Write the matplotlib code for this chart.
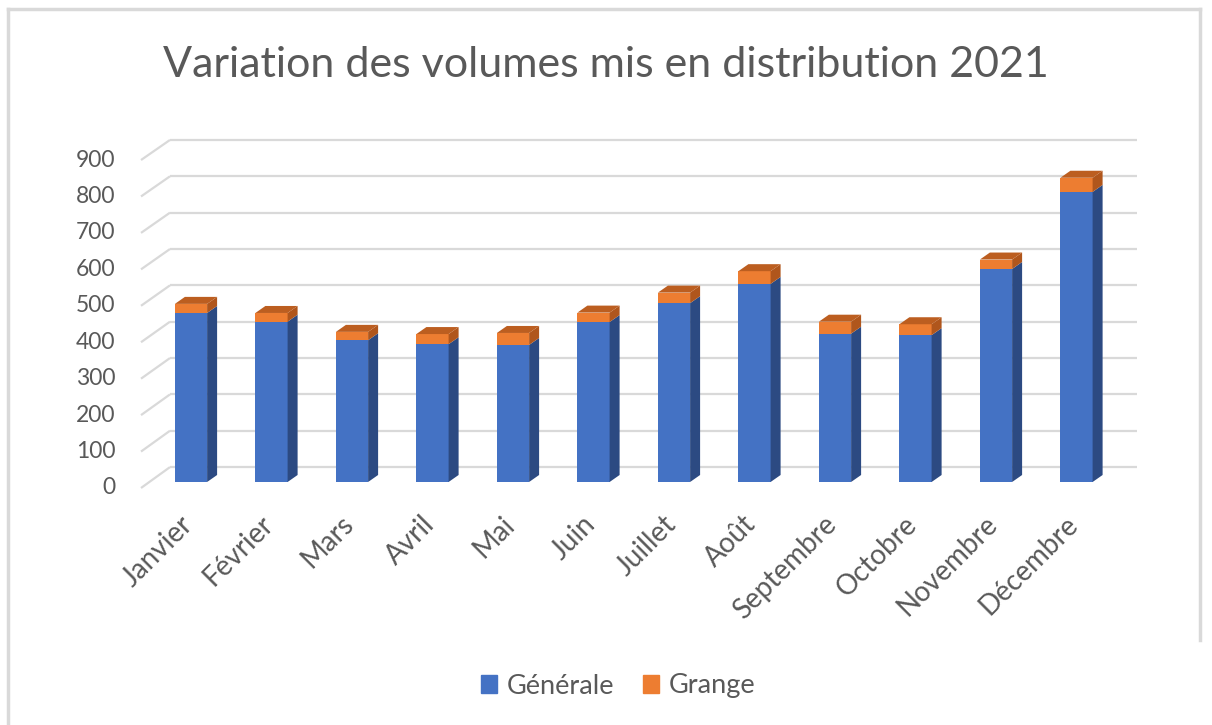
import matplotlib
matplotlib.use('Agg')
import matplotlib.pyplot as plt
from matplotlib.patches import Polygon, Patch
from matplotlib.lines import Line2D

plt.rcParams['font.family'] = ['Lato', 'DejaVu Sans']

months = ['Janvier', 'Février', 'Mars', 'Avril', 'Mai', 'Juin', 'Juillet',
          'Août', 'Septembre', 'Octobre', 'Novembre', 'Décembre']
generale = [465, 441, 390, 379, 377, 440, 492, 545, 408, 404, 586, 798]
grange = [25, 24, 23, 28, 33, 26, 29, 35, 33, 30, 26, 39]
yticks = [0, 100, 200, 300, 400, 500, 600, 700, 800, 900]
title = 'Variation des volumes mis en distribution 2021'

BLUE, BLUE_SIDE = '#4472C4', '#2C4A82'
ORANGE, ORANGE_SIDE, ORANGE_TOP = '#ED7D31', '#B0561C', '#BC5E20'
TEXT = '#595959'
GRID = '#d9d9d9'

W, H = 1212, 725
# pixel layout of the bar front plane
X0, STEP = 191.0, 80.5
Y0, PPU = 482.0, 0.3635
xlim = (-1.2, 12.0)
ylim = (-40, 960)

fig = plt.figure(figsize=(W / 100, H / 100), dpi=100)
left = X0 + xlim[0] * STEP
right = X0 + xlim[1] * STEP
top = Y0 - ylim[1] * PPU
bottom = Y0 - ylim[0] * PPU
ax = fig.add_axes([left / W, 1 - bottom / H, (right - left) / W, (bottom - top) / H])
ax.set_xlim(*xlim)
ax.set_ylim(*ylim)
ax.axis('off')

# depth offsets (data units)
dx, dy = 10 / STEP, 7 / PPU          # bar depth
wx, wy = 20.7 / STEP, 41.0           # bar front -> back wall
fx, fy = -8.3 / STEP, -16.5          # bar front -> front edge of floor
wall_left = -0.261
wall_right = 11.75

for v in yticks:
    yb = v + wy
    ax.plot([wall_left, wall_right], [yb, yb], color=GRID, lw=1.6, zorder=1,
            solid_capstyle='butt')
    ax.plot([wall_left - 0.36, wall_left], [v * 1.0025 + fy, yb], color=GRID,
            lw=1.6, zorder=1, solid_capstyle='butt')
    ax.text(-0.935, v * 1.0025 + fy, str(v), ha='right', va='center',
            fontsize=16.5, color=TEXT)

x = list(range(len(months)))
width = 0.4
ax.bar(x, generale, width=width, color=BLUE, zorder=3)
ax.bar(x, grange, width=width, bottom=generale, color=ORANGE, zorder=3)

for i, (g, o) in enumerate(zip(generale, grange)):
    xl, xr = i - width / 2, i + width / 2
    t = g + o
    ax.add_patch(Polygon([(xr, 0), (xr + dx, dy), (xr + dx, g + dy), (xr, g)],
                         closed=True, color=BLUE_SIDE, lw=0, zorder=3))
    ax.add_patch(Polygon([(xr, g), (xr + dx, g + dy), (xr + dx, t + dy), (xr, t)],
                         closed=True, color=ORANGE_SIDE, lw=0, zorder=3))
    ax.add_patch(Polygon([(xl, t), (xl + dx, t + dy), (xr + dx, t + dy), (xr, t)],
                         closed=True, color=ORANGE_TOP, lw=0, zorder=3))
    ax.text(i - 0.03, -105, months[i], rotation=45, rotation_mode='anchor',
            ha='right', va='center', fontsize=20, color=TEXT, clip_on=False)

fig.text(0.5, 1 - 65 / H, title, ha='center', va='center', fontsize=31, color=TEXT)

handles = [Patch(color=BLUE, label='Générale'), Patch(color=ORANGE, label='Grange')]
fig.legend(handles=handles, loc='center', bbox_to_anchor=(0.51, 1 - 686 / H), ncol=2,
           frameon=False, fontsize=19.5, handlelength=0.6, handleheight=0.6,
           handletextpad=0.35, columnspacing=1.05, labelcolor=TEXT)

# chart frame
fig.add_artist(Line2D([8 / W, 8 / W], [0, 1 - 9 / H], color=GRID, lw=2.5))
fig.add_artist(Line2D([8 / W, 1200 / W], [1 - 9 / H, 1 - 9 / H], color=GRID, lw=2.5))
fig.add_artist(Line2D([1200 / W, 1200 / W], [1 - 9 / H, 1 - 640 / H], color=GRID, lw=2.5))

fig.savefig('out.png', dpi=100, facecolor='white')
